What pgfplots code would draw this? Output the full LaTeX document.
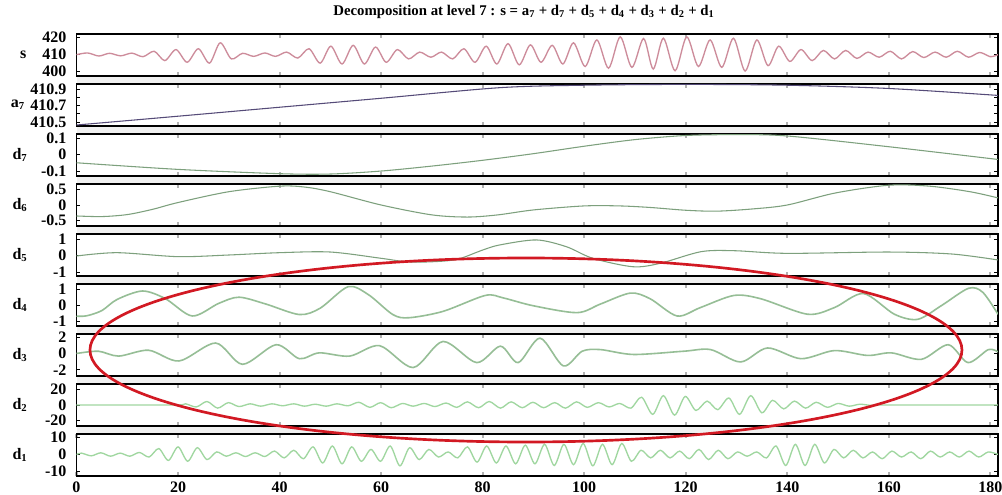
\documentclass[border=0pt]{standalone}
\usepackage{pgfplots}
\pgfplotsset{compat=1.18}
\usepackage{fontspec}
\setmainfont{Liberation Serif}
\definecolor{scol}{RGB}{205,140,155}
\definecolor{acol}{RGB}{85,75,120}
\definecolor{gcol}{RGB}{125,160,125}
\definecolor{mcol}{RGB}{150,190,150}
\definecolor{lcol}{RGB}{160,215,160}
\definecolor{ecol}{RGB}{210,25,35}
\newcommand{\lfont}{\fontsize{12}{14}\selectfont\bfseries}
\newcommand{\tfont}{\fontsize{11.1}{13}\selectfont\bfseries}
\pgfplotsset{panel/.style={
  scale only axis, width=691.1pt, height=31.5pt,
  xmin=0, xmax=181.5,
  xtick={20,40,...,180}, xticklabels={},
  tick align=inside, major tick length=3pt,
  xtick style={draw=black!30, line width=1.6pt},
  ytick style={draw=black, line width=0.6pt},
  axis line style={line width=1.1pt},
  axis background/.style={fill=white},
  yticklabel style={font=\lfont, xshift=-4pt},
  every axis y label/.style={at={(rel axis cs:0,0.5)}, anchor=center, xshift=-42.4pt, font=\lfont},
  anchor=north west,
}}
\begin{document}
\begin{tikzpicture}
\path[use as bounding box] (-57.375pt,25.5pt) rectangle (694.125pt,-345.75pt);
\fill[black!6] (0,0) rectangle (691.1pt,-330.75pt);
\node[font=\tfont] at (335.6pt,16.5pt) {Decomposition at level 7 : s = a\textsubscript{7} + d\textsubscript{7} + d\textsubscript{5} + d\textsubscript{4} + d\textsubscript{3} + d\textsubscript{2} + d\textsubscript{1}};

% s
\begin{axis}[panel, at={(0pt,0pt)}, ymin=397.4, ymax=422.2, ytick={400,410,420}, yticklabels={400,410,420},
  ylabel={s}, every axis y label/.append style={xshift=2.4pt}]
\addplot[scol, line width=1pt, smooth] coordinates {
(0,410)(2.2,411)(4.4,409.2)(6.5,410.8)(8.7,409.3)(10.9,410.9)(13.1,408.8)(15.3,412)(17.4,406.5)(19.6,413)
(21.8,405.5)(24,413.5)(26.2,405)(28.3,417)(30.5,407.5)(32.7,410.8)(34.9,409)(37.1,411)(39.2,409)(41.4,411.5)
(43.6,408)(45.8,413.5)(48,405)(50.1,415)(52.3,404.5)(54.5,415.5)(56.7,404.5)(58.9,414.5)(61,405.5)(63.2,413)
(65.4,407.5)(67.6,411.5)(69.8,408.5)(71.9,411.5)(74.1,407.5)(76.3,413.5)(78.5,405.5)(80.7,415)(82.8,404.5)(85,416.5)
(87.2,404)(89.4,415.8)(91.5,405.5)(93.7,415.5)(95.8,404.5)(97.9,417)(100.2,403)(102.5,418.7)(104.8,402)(107.1,420.5)
(109.4,402.5)(111.7,419.5)(113.6,401.5)(115.6,419.7)(117.9,400.5)(120.2,420.5)(122.5,403)(124.8,418.7)(127.1,402.5)(129.4,419.7)
(131.7,400.3)(134,418.7)(136.2,403.5)(138.3,415)(140.5,406)(142.7,413)(144.9,406.5)(147.1,412.5)(149.3,407.5)(151.5,412.5)
(153.7,407.8)(155.9,411.5)(158.1,408.5)(160.3,412)(162.5,407.5)(164.7,411.8)(166.9,408.3)(169.1,411.5)(171.3,408.5)(173.5,412)
(175.7,408.5)(177.9,411.3)(180,408.8)(181.5,410)};
\end{axis}

% a7
\begin{axis}[panel, at={(0pt,-37.5pt)}, ymin=410.45, ymax=410.965, ytick={410.5,410.6,410.7,410.8,410.9}, yticklabels={410.5,,410.7,,410.9},
  ylabel={a\textsubscript{7}}, every axis y label/.append style={xshift=-1.5pt}]
\addplot[acol, line width=0.8pt, smooth] coordinates {
(0,410.462)(20,410.57)(40,410.68)(60,410.79)(83.4,410.92)(100,410.95)(120,410.96)(140,410.95)(160,410.91)(181.5,410.825)};
\end{axis}

% d7
\begin{axis}[panel, at={(0pt,-75pt)}, ymin=-0.13, ymax=0.124, ytick={-0.1,0,0.1}, yticklabels={-0.1,0,0.1},
  ylabel={d\textsubscript{7}}]
\addplot[gcol, line width=0.8pt, smooth] coordinates {
(0,-0.05)(20,-0.09)(40,-0.116)(50,-0.118)(60,-0.1)(70,-0.07)(80,-0.035)(90,0.005)(100,0.05)(110,0.09)(120,0.115)(130,0.12)(140,0.112)(160,0.047)(181.5,-0.03)};
\end{axis}

% d6
\begin{axis}[panel, at={(0pt,-112.5pt)}, ymin=-0.68, ymax=0.68, ytick={-0.5,0,0.5}, yticklabels={-0.5,0,0.5},
  ylabel={d\textsubscript{6}}]
\addplot[gcol, line width=0.8pt, smooth] coordinates {
(0,-0.355)(5,-0.375)(10,-0.31)(15,-0.14)(20,0.08)(30,0.43)(40,0.61)(45,0.58)(50,0.43)(60,0)(70,-0.32)(77,-0.39)(83,-0.32)(90,-0.16)(100,-0.03)(107,-0.03)(113,-0.08)(120,-0.17)(126,-0.2)(133,-0.13)(140,0)(149.5,0.39)(160,0.64)(168,0.61)(176,0.43)(181.5,0.23)};
\end{axis}

% d5
\begin{axis}[panel, at={(0pt,-150pt)}, ymin=-1.24, ymax=1.3, ytick={-1,0,1}, yticklabels={-1,0,1},
  ylabel={d\textsubscript{5}}]
\addplot[gcol, line width=0.8pt, smooth] coordinates {
(0,-0.03)(8,0.17)(20,-0.07)(30,0.03)(40,0.17)(50,0.21)(60,-0.17)(65,-0.38)(70,-0.38)(75,-0.23)(80,0.33)(83.4,0.64)(90.6,0.94)(96.5,0.53)(101.7,-0.17)(109.6,-0.68)(115,-0.47)(123,0.23)(129.5,0.29)(140,0.13)(160,0.21)(172.4,0.09)(181.5,-0.27)};
\end{axis}

% d4
\begin{axis}[panel, at={(0pt,-187.5pt)}, ymin=-1.32, ymax=1.32, ytick={-1,0,1}, yticklabels={-1,0,1},
  ylabel={d\textsubscript{4}}]
\addplot[mcol, line width=1.2pt, smooth] coordinates {
(0,-0.7)(2,-0.68)(5,-0.35)(8,0.35)(13,0.88)(17.5,0.4)(22.8,-0.69)(28,0.1)(32,0.49)(37.3,0.06)(43.9,-0.6)(48,-0.2)(53.5,1.15)(57.5,0.65)(62.3,-0.6)(65.5,-0.8)(72.2,-0.4)(80.5,0.6)(84,0.45)(90,-0.05)(98.6,-0.48)(103.2,0.06)(109.1,0.75)(113,0.39)(118.3,-0.69)(122.9,-0.16)(129.5,0.6)(134.8,0.39)(144,-0.58)(149.3,-0.16)(155,0.72)(161.1,-0.58)(165.7,-0.9)(170.4,-0.03)(175.7,1.05)(178.5,0.8)(181.5,-0.58)};
\end{axis}

% d3
\begin{axis}[panel, at={(0pt,-225pt)}, ymin=-2.77, ymax=2.4, ytick={-2,0,2}, yticklabels={-2,0,2},
  ylabel={d\textsubscript{3}}]
\addplot[mcol, line width=1.2pt, smooth] coordinates {
(0,0)(4.3,0.28)(8.3,-0.32)(14.2,0.4)(20.2,-0.92)(27.4,1.29)(32.7,-1.33)(39.3,1.08)(43.9,-0.64)(47.8,0.08)(53.8,-0.32)(59.7,0.96)(66.3,-1.73)(72.2,1.48)(78.8,-1.12)(83.5,0.9)(87,-1.12)(91.3,1.89)(95.9,-1.53)(99.6,0.28)(103.2,0.48)(109.7,-0.12)(119.6,0.28)(124.9,0.48)(130.8,-1.04)(136.1,0.68)(142.7,-0.64)(149.3,0.36)(155.8,-0.24)(160.5,0.08)(166.4,-0.72)(171.7,1.08)(175.6,-1.12)(179.6,0.48)(181.5,0.2)};
\end{axis}

% d2
\begin{axis}[panel, at={(0pt,-262.5pt)}, ymin=-27, ymax=27, ytick={-20,0,20}, yticklabels={-20,0,20},
  ylabel={d\textsubscript{2}}]
\addplot[lcol, line width=1pt, smooth] coordinates {
(0,0)(10,0)(20,0)(21.5,1.5)(23.6,-2.5)(25.7,4.5)(27.8,-4)(29.9,3)(32,-2)(34.2,1.5)(36.3,-1.5)(38.5,1.5)(40.6,-1)(42.8,1.5)(44.9,-1.5)
(47,1)(49.2,-1.5)(51.3,1.5)(53.5,-1)(55.6,3.5)(57.8,-3)(59.9,3)(62,-3.5)(64.2,2)(66.3,-1.5)(68.5,2)(70.6,-2)(72.8,2.5)(74.9,-3)
(77,4)(79.2,-3.5)(81.3,4.5)(83.5,-4)(85.6,4)(87.8,-3.5)(89.9,3.5)(92,-3.5)(94.2,3)(96.3,-4)(98.5,4)(100.6,-3)(102.8,3)(104.9,-2.5)
(107,2)(109.2,-4)(111.3,10)(113.5,-12)(115.6,12)(117.8,-13)(119.9,11)(122,-7)(124.2,5)(126.3,-6)(128.5,9)(130.6,-12)(132.8,12)(135,-10)
(137.1,6)(139.3,-5)(141.4,5)(143.6,-4)(145.7,3.5)(147.9,-3)(150,2)(152.2,-1.5)(154.3,1)(156.5,-0.5)(158.5,0)(170,0)(181.5,0)};
\end{axis}

% d1
\begin{axis}[panel, at={(0pt,-300pt)}, ymin=-12.7, ymax=12.1, ytick={-10,0,10}, yticklabels={-10,0,10},
  xtick={0,20,...,180}, xticklabels={0,20,40,60,80,100,120,140,160,180},
  xticklabel style={font=\lfont, yshift=-1pt},
  ylabel={d\textsubscript{1}}]
\addplot[lcol, line width=1pt, smooth] coordinates {
(0,0)(1,0.8)(2.9,-0.8)(4.8,1)(6.7,-1)(8.6,0.8)(10.5,-1)(12.4,1.2)(14.3,-1.5)(16.2,3.5)(18.1,-3.5)(20,4.5)(21.9,-4)(23.8,4)(25.7,-3)
(27.6,1.5)(29.5,-1)(31.4,1)(33.3,-1.2)(35.2,1)(37.1,-1.2)(39,2)(40.9,-2)(42.8,2.5)(44.7,-2.5)(46.6,4.5)(48.5,-5)(50.4,5)(52.3,-5.5)
(54.2,4.5)(56.1,-4)(58,3)(59.9,-4)(61.8,5)(63.7,-6.7)(65.6,4)(67.5,-3)(69.4,3)(71.3,-1.5)(73.2,1.5)(75.1,-2)(77,4.5)(78.9,-4.5)
(80.8,5)(82.7,-5)(84.6,5)(86.5,-5.5)(88.4,5.5)(90.3,-5.5)(92.2,6)(94.1,-6.5)(96,6)(97.9,-6)(99.8,6.5)(101.7,-6.7)(103.6,6)(105.5,-6)
(107.4,6.5)(109.3,-4)(111.2,2.5)(113.1,-2)(115,2.5)(116.9,-2)(118.8,2)(120.7,-2.5)(122.6,3)(124.5,-3)(126.4,2.5)(128.3,-2.5)(130.2,1.5)
(132.1,-1)(134,1.5)(135.9,-2)(137.8,5)(139.7,-6.5)(141.6,6)(143.5,-6.5)(145.4,6)(147.3,-5)(149.2,3)(151.1,-2)(153,2.5)(154.9,-2)
(156.8,1.5)(158.7,-2.5)(160.6,2)(162.5,-1.5)(164.4,1.5)(166.3,-2.5)(168.2,2)(170.1,-1.5)(172,1.5)(173.9,-1.5)(175.8,2)(177.7,-1.5)
(179.6,1.5)(181.5,0)};
\end{axis}

\draw[ecol, line width=2pt] (337.1pt,-237pt) ellipse [x radius=327pt, y radius=69pt];
\end{tikzpicture}
\end{document}
